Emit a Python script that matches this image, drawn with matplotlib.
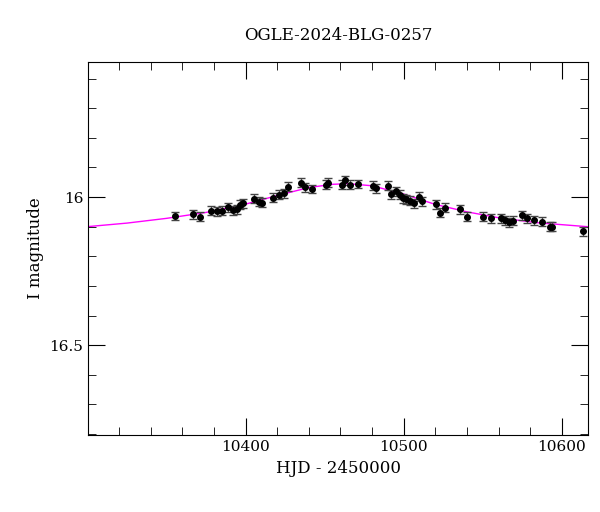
import matplotlib
matplotlib.use("Agg")
import matplotlib.pyplot as plt
from matplotlib.ticker import MultipleLocator

hjd = [10355.5,10366.9,10371.1,10378.3,10382.1,10385.4,10388.6,10392.0,10394.7,10396.4,10398.5,
       10405.3,10408.4,10410.1,10417.5,10420.9,10424.5,10427.0,10435.3,10437.5,10441.8,10450.8,
       10452.3,10460.8,10462.8,10466.3,10471.3,10480.6,10482.7,10489.9,10492.0,10495.4,10497.5,
       10499.6,10501.7,10504.2,10506.8,10509.7,10511.8,10520.3,10523.0,10525.9,10535.4,10539.7,
       10549.8,10554.9,10561.8,10563.9,10566.6,10568.8,10574.7,10578.0,10582.1,10587.2,10592.4,
       10593.7,10613.1]
mag = [16.064,16.058,16.067,16.046,16.048,16.046,16.034,16.045,16.042,16.026,16.021,
       16.006,16.016,16.019,16.003,15.992,15.987,15.965,15.952,15.967,15.973,15.958,
       15.952,15.958,15.943,15.958,15.956,15.962,15.970,15.962,15.991,15.980,15.992,
       16.004,16.008,16.013,16.021,15.999,16.014,16.025,16.053,16.036,16.041,16.067,
       16.067,16.071,16.072,16.078,16.085,16.080,16.061,16.072,16.078,16.083,16.100,
       16.100,16.115]
err = [0.015]*len(hjd)

model_t = [10300,10325,10350,10375,10400,10420,10440,10455,10465,10480,10500,10520,10540,10560,10585,10616]
model_m = [16.100,16.088,16.072,16.052,16.024,15.995,15.968,15.957,15.955,15.962,15.990,16.025,16.050,16.070,16.087,16.100]

plt.rcParams["font.family"] = "DejaVu Serif"
fig = plt.figure(figsize=(6, 5.12), dpi=100)
ax = fig.add_axes([0.147, 0.15, 0.833, 0.729])
ax.plot(model_t, model_m, color="magenta", lw=1, zorder=1)
ax.errorbar(hjd, mag, yerr=err, fmt="o", ms=4, color="black", ecolor="#444444",
            elinewidth=1, capsize=3, capthick=1, zorder=2)
ax.set_xlim(10300.5, 10616.5)
ax.set_ylim(16.804, 15.544)
ax.xaxis.set_major_locator(MultipleLocator(100))
ax.xaxis.set_minor_locator(MultipleLocator(20))
ax.yaxis.set_major_locator(MultipleLocator(0.5))
ax.yaxis.set_minor_locator(MultipleLocator(0.1))
ax.yaxis.set_major_formatter(plt.FuncFormatter(lambda v, p: f"{v:g}"))
ax.tick_params(which="both", direction="in", top=True, right=True, labelsize=11)
ax.tick_params(which="major", length=12)
ax.tick_params(which="minor", length=6)
ax.set_xlabel("HJD - 2450000", fontsize=12)
ax.set_ylabel("I magnitude", fontsize=12)
ax.set_title("OGLE-2024-BLG-0257", fontsize=12, pad=16)
fig.savefig("out.png", dpi=100)
